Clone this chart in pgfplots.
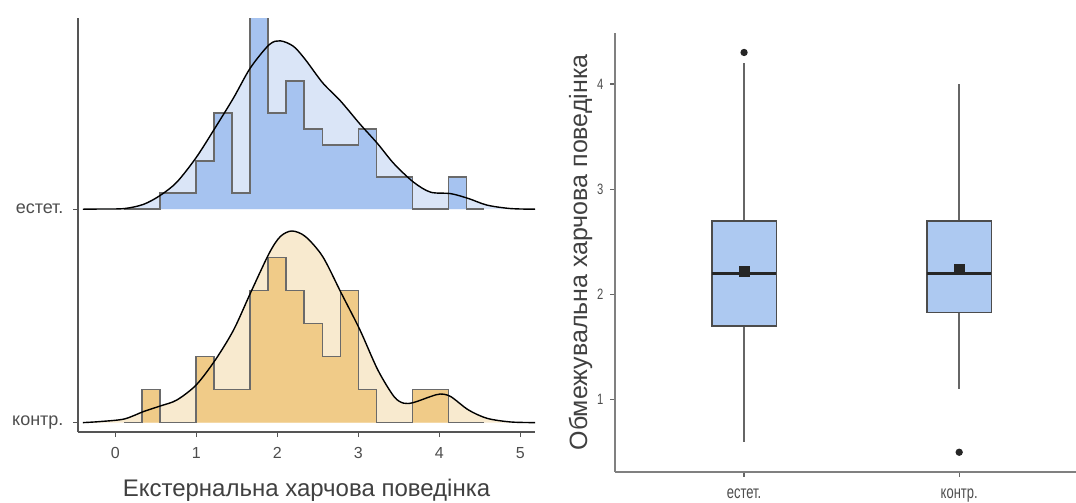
\documentclass[border=0pt]{standalone}
\usepackage{fontspec}
\setmainfont{Liberation Sans}
\usepackage{graphicx}
\usepackage{pgfplots}
\usepackage{pgfplotstable}
\pgfplotsset{compat=1.18}
\usepgfplotslibrary{statistics}

\definecolor{histE}{HTML}{A6C3F0}
\definecolor{densE}{HTML}{DAE5F7}
\definecolor{histK}{HTML}{F0CB88}
\definecolor{densK}{HTML}{F8EACF}
\definecolor{boxblue}{HTML}{ADC9F1}
\definecolor{axgray}{HTML}{555555}
\definecolor{txtgray}{HTML}{4D4D4D}
\definecolor{outl}{HTML}{6A6A6A}

% histogram bins: left edge, count (bin width 2/9)
\pgfplotstableread{
x n
0.1111 0
0.3333 0
0.5556 1
0.7778 1
1.0000 3
1.2222 6
1.4444 1
1.6667 12
1.8889 6
2.1111 8
2.3333 5
2.5556 4
2.7778 4
3.0000 5
3.2222 2
3.4444 2
3.6667 0
3.8889 0
4.1111 2
4.3333 0
4.5556 0
}\histEst

\pgfplotstableread{
x n
0.1111 0
0.3333 1
0.5556 0
0.7778 0
1.0000 2
1.2222 1
1.4444 1
1.6667 4
1.8889 5
2.1111 4
2.3333 3
2.5556 2
2.7778 4
3.0000 1
3.2222 0
3.4444 0
3.6667 1
3.8889 1
4.1111 0
4.3333 0
4.5556 0
}\histKon

% density curves, height above the ridge baseline
\pgfplotstableread{
x h
-0.40 0
-0.185 0.001
0.111 0.003
0.35 0.023
0.556 0.065
0.76 0.127
1.0 0.243
1.235 0.383
1.46 0.522
1.667 0.662
1.90 0.771
2.037 0.789
2.20 0.763
2.346 0.701
2.56 0.592
2.78 0.507
3.02 0.399
3.24 0.306
3.44 0.213
3.68 0.127
3.89 0.080
4.14 0.073
4.36 0.050
4.59 0.019
4.88 0.003
5.20 0
}\densEst

\pgfplotstableread{
x h
-0.40 0
-0.185 0.005
0.111 0.017
0.35 0.052
0.556 0.078
0.76 0.106
1.0 0.177
1.235 0.294
1.46 0.434
1.667 0.606
1.90 0.794
2.037 0.872
2.18 0.898
2.346 0.872
2.56 0.778
2.79 0.606
3.02 0.434
3.24 0.247
3.44 0.122
3.56 0.091
3.68 0.094
3.89 0.122
4.01 0.134
4.14 0.122
4.36 0.059
4.59 0.020
4.88 0.003
5.20 0
}\densKon

\begin{document}
\begin{tikzpicture}
\useasboundingbox (0,0) rectangle (1076pt,-503pt);

% ---------- ridgeline panel ----------
\begin{axis}[
  at={(78pt,-432pt)}, anchor=south west,
  scale only axis, width=457pt, height=414pt,
  xmin=-0.46, xmax=5.18, ymin=0.956, ymax=2.896,
  axis lines=left,
  axis line style={axgray, line width=1.1pt, -},
  tick style={axgray, line width=1.1pt},
  tick align=outside, major tick length=5pt,
  xtick={0,1,2,3,4,5}, ytick={1,2},
  yticklabels={контр., естет.},
  /pgf/number format/assume math mode=true,
  xticklabel style={font=\fontsize{16}{16}\selectfont, text=txtgray, yshift=-7pt},
  yticklabel style={font=\fontsize{18}{18}\selectfont, text=txtgray, xshift=-6pt},
  xlabel={Екстернальна харчова поведінка},
  xlabel style={font=\fontsize{24}{24}\selectfont, text=black!75, yshift=-13pt},
]
% естет.
\addplot[draw=none, fill=densE, smooth] table[x=x, y expr=2+\thisrow{h}] {\densEst};
\addplot[const plot, fill=histE, draw=outl, line width=1.7pt]
  table[x=x, y expr=2+\thisrow{n}*4.644/62] {\histEst};
\addplot[black, line width=1.4pt, smooth] table[x=x, y expr=2+\thisrow{h}] {\densEst};
% контр.
\addplot[draw=none, fill=densK, smooth] table[x=x, y expr=1+\thisrow{h}] {\densKon};
\addplot[const plot, fill=histK, draw=outl, line width=1.7pt]
  table[x=x, y expr=1+\thisrow{n}*4.644/30] {\histKon};
\addplot[black, line width=1.4pt, smooth] table[x=x, y expr=1+\thisrow{h}] {\densKon};
\end{axis}

% ---------- box plot panel ----------
\begin{axis}[
  at={(615pt,-471.7pt)}, anchor=south west,
  scale only axis, width=461pt, height=438.7pt,
  xmin=0.4, xmax=2.543, ymin=0.315, ymax=4.485,
  axis lines=left,
  axis line style={black!50, line width=1.8pt, -},
  tick style={black!60, line width=1.3pt},
  tick align=outside, major tick length=5pt,
  xtick={1,2}, xticklabels={\scalebox{0.72}[1]{естет.}, \scalebox{0.72}[1]{контр.}},
  ytick={1,2,3,4},
  yticklabel={\scalebox{0.75}[1]{\pgfmathprintnumber{\tick}}},
  /pgf/number format/assume math mode=true,
  xticklabel style={font=\fontsize{18}{18}\selectfont, text=txtgray, yshift=-9pt},
  yticklabel style={font=\fontsize{15}{15}\selectfont, text=txtgray, xshift=-3pt},
  ylabel={Обмежувальна харчова поведінка},
  ylabel style={font=\fontsize{25}{25}\selectfont, text=black!75, yshift=-2pt},
  boxplot/draw direction=y,
  boxplot/box extend=0.3,
  boxplot/whisker extend=0,
  boxplot/every whisker/.style={draw=black!60, line width=1.6pt},
  boxplot/every median/.style={draw=black!85, line width=2.6pt},
  boxplot/every box/.style={fill=boxblue, draw=black!70, line width=1.6pt},
]
\addplot[line width=1.6pt, mark=*, mark size=2.8pt, mark options={fill=black!85, draw=black!85},
  boxplot prepared={draw position=1, lower whisker=0.6, lower quartile=1.7,
    median=2.2, upper quartile=2.7, upper whisker=4.2}]
  table[row sep=\\, y index=0] {4.3\\};
\addplot[line width=1.6pt, mark=*, mark size=2.8pt, mark options={fill=black!85, draw=black!85},
  boxplot prepared={draw position=2, lower whisker=1.1, lower quartile=1.83,
    median=2.2, upper quartile=2.7, upper whisker=4.0}]
  table[row sep=\\, y index=0] {0.5\\};
% means
\addplot[only marks, mark=square*, mark size=4.7pt, black!85]
  coordinates {(1,2.222) (2,2.244)};
\end{axis}
\end{tikzpicture}
\end{document}
